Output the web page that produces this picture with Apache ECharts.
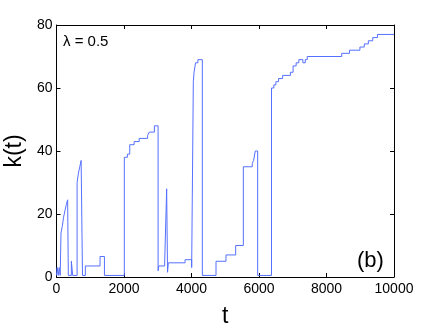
<!DOCTYPE html>
<html>
<head>
<meta charset="utf-8">
<script src="https://cdn.jsdelivr.net/npm/echarts@6/dist/echarts.min.js"></script>
<style>
  html, body { margin: 0; padding: 0; background: #fff; }
  #chart { width: 435px; height: 327px; }
</style>
</head>
<body>
<div id="chart"></div>
<script>
// times where k(t) changes, and the level held from that time on
const times = [0, 20, 50, 80, 110, 133, 170, 210, 250, 290, 330, 350, 440, 480,
  610, 650, 690, 730, 770, 855, 1290, 1420,
  2010, 2100, 2170, 2300, 2450, 2700, 2750, 2900, 3010, 3030,
  3205, 3264, 3290, 3313, 3810, 4005, 4054, 4075, 4120, 4190, 4321,
  4726, 5022, 5309, 5536, 5800, 5840, 5890, 5960,
  6370, 6440, 6500, 6580, 6700, 6930, 7010, 7100, 7180, 7300, 7370, 7430,
  8450, 8680, 8990, 9120, 9240, 9370, 9510, 10000];
const kValues = [0.5, 3, 0.5, 3, 0.5, 14, 16, 19, 21, 23, 24.5, 0.5, 5, 0.5,
  30, 33, 35, 37, 0.5, 3.5, 6.5, 0.5,
  38, 39, 42, 43, 44, 45, 46, 48, 2, 3.5,
  4.5, 28, 1.5, 4.5, 5.5, 3, 62, 65, 68, 69, 0.5,
  5, 7, 10, 35, 36, 37, 40, 0.5,
  60, 61, 62, 63, 64, 65, 67, 68, 69, 68, 69, 70,
  71, 72, 73, 74, 75, 76, 77, 77];

const chart = echarts.init(document.getElementById('chart'));
const font = 'Liberation Sans, Arial, Helvetica, sans-serif';
const seriesData = times.map((t, i) => [t, kValues[i]]);

const boxAxis = {
  axisLine: { show: true, onZero: false, lineStyle: { color: '#000', width: 1 } },
  axisTick: { show: true, inside: true, length: 4, lineStyle: { color: '#000' } },
  splitLine: { show: false }
};

chart.setOption({
  animation: false,
  grid: { left: 56.5, right: 41, top: 25, bottom: 50, containLabel: false, outerBoundsMode: 'none' },
  xAxis: [
    Object.assign({
      type: 'value', min: 0, max: 10000, interval: 2000,
      name: 't', nameLocation: 'middle', nameGap: 28,
      nameTextStyle: { fontSize: 23, color: '#000', fontFamily: font },
      axisLabel: { fontSize: 14, color: '#000', fontFamily: font, margin: 5,
        formatter: v => String(v) }
    }, boxAxis),
    Object.assign({
      type: 'value', min: 0, max: 10000, interval: 2000, position: 'top',
      axisLabel: { show: false }
    }, boxAxis)
  ],
  yAxis: [
    Object.assign({
      type: 'value', min: 0, max: 80, interval: 20,
      name: 'k(t)', nameLocation: 'middle', nameGap: 25,
      nameTextStyle: { fontSize: 23, color: '#000', fontFamily: font },
      axisLabel: { fontSize: 14, color: '#000', fontFamily: font, margin: 4 }
    }, boxAxis),
    Object.assign({
      type: 'value', min: 0, max: 80, interval: 20, position: 'right',
      axisLabel: { show: false }
    }, boxAxis)
  ],
  series: [{
    type: 'line',
    step: 'end',
    data: seriesData,
    showSymbol: false,
    lineStyle: { color: '#5570ff', width: 1 }
  }],
  graphic: [
    { type: 'text', left: 63, top: 34,
      style: { text: 'λ = 0.5', fontSize: 15, fill: '#000', fontFamily: font } },
    { type: 'text', left: 357, top: 250,
      style: { text: '(b)', fontSize: 22, fill: '#000', fontFamily: font } }
  ]
});
</script>
</body>
</html>
